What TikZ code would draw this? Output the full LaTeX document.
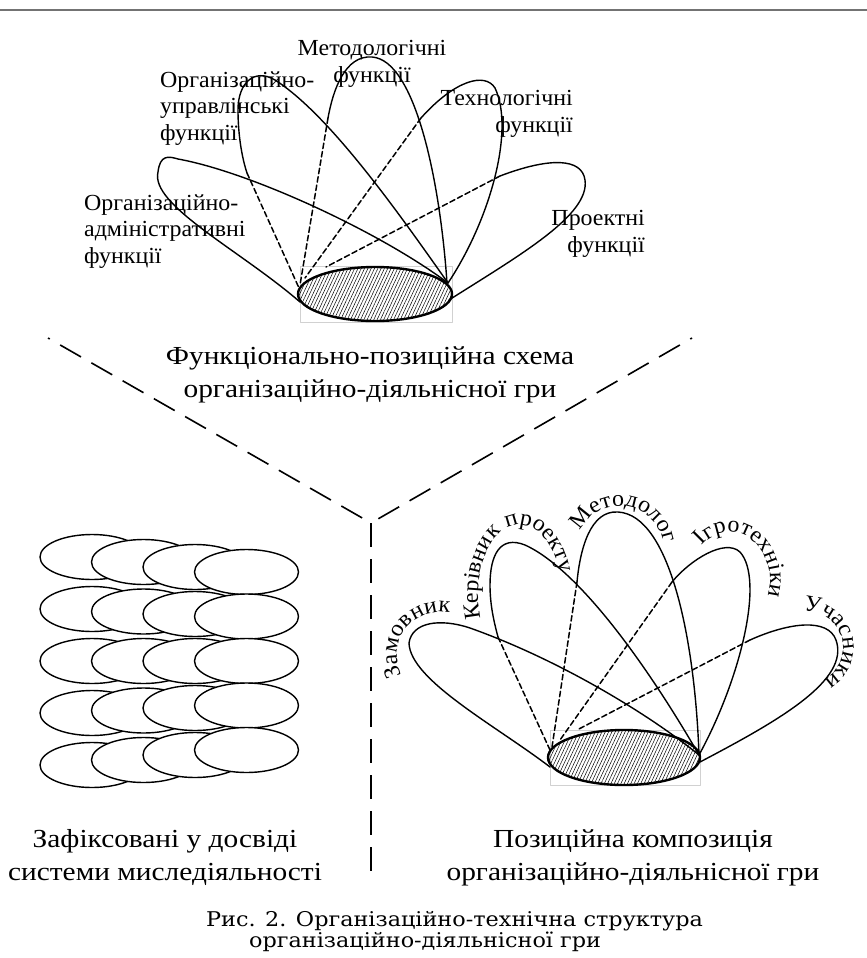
\documentclass[tikz,border=0pt]{standalone}
\usepackage{fontspec}
\setmainfont{Liberation Serif}
\newfontfamily\lblfont[FakeStretch=1.04]{Liberation Serif}
\newfontfamily\widefont[FakeStretch=1.13]{Liberation Serif}
\newfontfamily\capfont[FakeStretch=1.1]{DejaVu Serif}
\usetikzlibrary{decorations.text,patterns.meta}

\begin{document}
\begin{tikzpicture}[
    x=1pt,y=-1pt,
    line cap=round,line join=round,
    petal/.style={line width=1.4pt},
    hidden/.style={line width=1.5pt,dash pattern=on 5.5pt off 3pt},
    core/.style={line width=2.4pt,pattern={Lines[angle=65,distance=3pt,line width=0.5pt]}},
    corebox/.style={draw=black!18,line width=0.6pt},
    split/.style={line width=1.6pt,line cap=butt,dash pattern=on 24pt off 12pt},
    cell/.style={line width=1.4pt,fill=white},
    lbl/.style={font=\lblfont\fontsize{23}{26.5}\selectfont,inner sep=0pt},
    heading/.style={font=\widefont\fontsize{26}{32.5}\selectfont,inner sep=0pt,align=center},
    arclbl/.style={decorate,decoration={text along path,text align=left,
        text={|\lblfont\fontsize{23}{23}\selectfont|#1}}}
]
    \useasboundingbox (0,0) rectangle (867,958);
    \draw[black!55,line width=1.5pt] (0,10) -- (867,10);

    % functional-positional scheme
    \draw[corebox] (300,266) rectangle (452,322);
    \draw[petal] (300,302) .. controls (240,250) and (150,205) .. (158,172)
        .. controls (160,155) and (168,156) .. (178,159)
        .. controls (250,172) and (380,232) .. (448,283);
    \draw[petal] (448,283) .. controls (400,215) and (330,115) .. (275,80)
        .. controls (255,68) and (238,82) .. (238,110)
        .. controls (238,135) and (242,158) .. (247,173);
    \draw[petal] (447,283) .. controls (440,180) and (415,60) .. (372,57)
        .. controls (345,55) and (333,90) .. (328,118);
    \draw[petal] (448,283) .. controls (490,220) and (515,130) .. (495,88)
        .. controls (485,72) and (455,80) .. (421,118);
    \draw[petal] (449,300) .. controls (520,255) and (590,215) .. (585,180)
        .. controls (582,158) and (550,157) .. (500,176);
    \draw[hidden] (247,173) -- (299,288);
    \draw[hidden] (328,118) -- (300,285);
    \draw[hidden] (421,118) -- (305,278);
    \draw[hidden] (500,176) -- (326,267);
    \draw[core] (375,294) ellipse[x radius=77,y radius=27];

    \node[lbl,align=center,anchor=base] (metod) at (372,82) {Методологічні\\функції};
    \node[lbl,align=left,anchor=base west] (upr) at (160,140) {Організаційно-\\управлінські\\функції};
    \node[lbl,align=right,anchor=base east] (tech) at (573,132) {Технологічні\\функції};
    \node[lbl,align=left,anchor=base west] (adm) at (84,263) {Організаційно-\\адміністративні\\функції};
    \node[lbl,align=right,anchor=base east] (proj) at (645,252) {Проектні\\функції};
    \node[heading,anchor=base] (scheme) at (370,397)
        {Функціонально-позиційна схема\\організаційно-діяльнісної гри};

    % dividing lines
    \coordinate (mid) at (371,523);
    \coordinate (nw) at (48,338);
    \coordinate (ne) at (692,338);
    \coordinate (south) at (371,877);
    \draw[split,dash phase=22pt] (nw) -- (mid);
    \draw[split,dash phase=22pt] (ne) -- (mid);
    \draw[split] (mid) -- (south);

    % fixed systems of thought-activity
    \foreach \r in {0,...,4}
        \foreach \c in {0,...,3}
            \draw[cell] ({92+51.5*\c},{557+52*\r+\c*(5-2.5*\r)}) ellipse[x radius=52,y radius=22.5];
    \node[heading,anchor=base] (fixed) at (165,880)
        {Зафіксовані у досвіді\\системи миследіяльності};

    % positional composition
    \draw[corebox] (550,730) rectangle (700,785);
    \draw[petal] (550,767) .. controls (495,725) and (410,680) .. (409,643)
        .. controls (412,622) and (440,618) .. (470,628)
        .. controls (560,660) and (650,715) .. (699,755);
    \draw[petal] (699,755) .. controls (650,670) and (580,570) .. (525,545)
        .. controls (500,535) and (490,555) .. (490,585)
        .. controls (490,605) and (494,622) .. (498,637);
    \draw[petal] (699,755) .. controls (695,640) and (670,515) .. (618,512)
        .. controls (590,510) and (580,550) .. (577,582);
    \draw[petal] (699,755) .. controls (740,680) and (765,580) .. (740,552)
        .. controls (725,538) and (690,560) .. (672,582);
    \draw[petal] (700,762) .. controls (780,720) and (850,680) .. (836,640)
        .. controls (828,618) and (790,622) .. (750,640);
    \draw[hidden] (498,637) -- (550,750);
    \draw[hidden] (577,582) -- (552,747);
    \draw[hidden] (672,582) -- (560,740);
    \draw[hidden] (750,640) -- (577,730);
    \draw[core] (624,757.5) ellipse[x radius=76,y radius=27.5];

    \path[arclbl=Замовник] (440,655) ++(152:43) arc[start angle=152,end angle=320,radius=43];
    \path[arclbl=Керівник проекту] (520,595) ++(160:42 and 70)
        arc[start angle=160,end angle=380,x radius=42,y radius=70];
    \path[arclbl=Методолог] (620,550) ++(205:44) arc[start angle=205,end angle=370,radius=44];
    \path[arclbl=Ігротехніки] (730,580) ++(225:40 and 48)
        arc[start angle=225,end angle=400,x radius=40,y radius=48];
    \path[arclbl=Учасники] (806,648) ++(266:37) arc[start angle=266,end angle=440,radius=37];
    \node[heading,anchor=base] (comp) at (633,880)
        {Позиційна композиція\\організаційно-діяльнісної гри};

    \node[inner sep=0pt,align=left,anchor=base west,font=\capfont\fontsize{20.3}{21}\selectfont] (caption) at (206,947)
        {Рис. 2. Організаційно-технічна структура\\\hspace*{43pt}організаційно-діяльнісної гри};
\end{tikzpicture}
\end{document}
